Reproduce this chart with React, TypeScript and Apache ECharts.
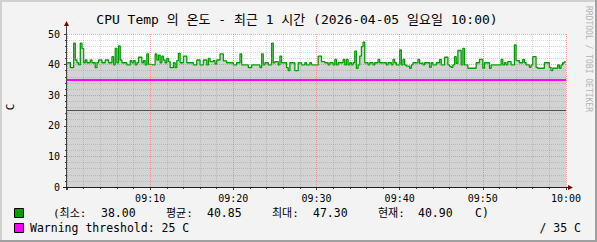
import React, { useEffect, useRef } from "react";
import * as echarts from "echarts";

const titleText = "CPU Temp 의 온도 - 최근 1 시간 (2026-04-05 일요일 10:00)";
const startHour = 9;
const stepSeconds = 12;
const totalSeconds = 3600;
const yTicks = [0, 10, 20, 30, 40, 50];
const warnLow = 25;
const warnHigh = 35;

// CPU temperature samples, one per 12 seconds from 09:00
const temps = [
  40.6, 40.6, 39.0, 39.0, 47.0, 41.5, 40.6, 39.9, 47.0, 45.3, 40.6, 41.5, 40.6, 40.6, 41.5, 40.6, 40.6, 39.0, 40.6, 41.5,
  41.5, 40.6, 40.6, 41.5, 41.5, 40.6, 40.6, 42.6, 39.9, 45.3, 40.6, 46.1, 41.5, 40.6, 40.6, 40.6, 39.9, 39.9, 41.3, 40.6,
  41.3, 39.9, 40.6, 42.4, 42.4, 40.6, 41.3, 39.9, 43.5, 40.1, 40.1, 39.9, 39.9, 43.5, 41.5, 43.1, 40.6, 42.8, 41.5, 40.6,
  42.0, 41.0, 39.0, 39.0, 40.6, 39.0, 41.3, 43.7, 40.6, 40.6, 42.8, 42.8, 40.6, 40.6, 40.6, 40.6, 39.9, 39.9, 41.5, 41.5,
  39.9, 39.9, 41.5, 41.5, 39.9, 42.0, 41.0, 41.0, 41.3, 40.2, 41.5, 41.5, 43.5, 43.5, 41.2, 41.2, 40.6, 40.6, 40.6, 40.6,
  39.9, 39.9, 40.6, 40.6, 43.5, 39.9, 39.9, 39.9, 39.9, 39.0, 39.0, 39.9, 39.9, 39.9, 39.9, 39.9, 39.0, 43.5, 39.9, 40.6,
  40.6, 39.9, 39.9, 47.0, 40.6, 41.0, 41.0, 39.9, 42.8, 40.6, 40.6, 40.6, 39.0, 38.0, 40.6, 40.6, 40.6, 38.0, 38.0, 40.6,
  40.6, 39.9, 39.9, 40.6, 39.9, 39.9, 40.6, 39.9, 39.9, 39.9, 39.9, 42.8, 42.8, 41.0, 41.0, 40.6, 40.6, 39.9, 40.6, 40.6,
  39.9, 41.7, 39.9, 40.6, 40.6, 40.6, 41.7, 39.9, 41.7, 39.9, 40.6, 39.9, 40.6, 44.4, 38.8, 39.9, 42.8, 45.9, 47.3, 40.6,
  40.6, 39.9, 40.6, 40.6, 39.9, 40.6, 40.6, 41.7, 40.6, 40.6, 40.6, 40.6, 39.9, 40.6, 40.6, 39.9, 41.7, 40.6, 39.9, 39.9,
  44.8, 39.9, 41.7, 39.9, 39.5, 39.5, 38.8, 39.9, 40.6, 40.6, 40.6, 41.7, 40.4, 40.6, 39.9, 40.6, 40.6, 40.6, 39.1, 40.6,
  39.9, 39.9, 40.6, 40.6, 41.7, 39.9, 39.9, 42.4, 42.4, 39.9, 39.4, 39.1, 39.9, 42.6, 40.4, 44.6, 44.6, 39.9, 45.3, 39.9,
  39.9, 38.8, 38.8, 38.8, 38.8, 38.8, 40.6, 40.6, 41.7, 41.7, 38.8, 40.6, 40.6, 40.6, 38.8, 39.9, 39.9, 39.9, 39.9, 39.9,
  39.9, 41.7, 39.9, 40.6, 39.9, 41.0, 41.0, 39.9, 39.9, 46.4, 41.3, 41.3, 40.6, 40.6, 41.7, 40.6, 39.9, 39.9, 39.1, 39.9,
  42.6, 42.6, 39.1, 38.8, 38.8, 38.8, 38.8, 40.6, 40.6, 40.6, 39.1, 38.0, 38.8, 38.8, 38.8, 39.9, 38.8, 39.9, 40.6, 40.9,
];

const statLabels = ["(최소:", "평균:", "최대:", "현재:"];
const statValues = ["38.00", "40.85", "47.30", "40.90"];
const statUnit = "C)";
const warnLegend = "Warning threshold: 25 C";
const warnLegendRight = "/ 35 C";
const watermark = "RRDTOOL / TOBI OETIKER";

const MONO = "'DejaVu Sans Mono', 'Noto Sans CJK KR', monospace";

export default function App() {
  const ref = useRef<HTMLDivElement>(null);

  useEffect(() => {
    if (!ref.current) return;
    const chart = echarts.init(ref.current, undefined, { renderer: "svg" });

    const points: [number, number][] = temps.map((v, i) => [i * stepSeconds, v]);
    points.push([totalSeconds, temps[temps.length - 1]]);

    const gl = 67, gt = 34, gw = 499, gh = 153;
    const labelX = [53, 166, 272, 378];
    const valueX = [101, 207, 313, 418];

    const legendTexts: any[] = [];
    statLabels.forEach((t, i) => {
      legendTexts.push({
        type: "text",
        style: { text: t, x: labelX[i], y: 213, verticalAlign: "middle", fontSize: 11, fontFamily: MONO, fill: "#000" },
      });
      legendTexts.push({
        type: "text",
        style: { text: statValues[i], x: valueX[i], y: 213, verticalAlign: "middle", fontSize: 11.5, fontFamily: MONO, fill: "#000" },
      });
    });
    legendTexts.push({
      type: "text",
      style: { text: statUnit, x: 475, y: 213, verticalAlign: "middle", fontSize: 11.5, fontFamily: MONO, fill: "#000" },
    });

    const fmt = (v: number) => {
      if (v === 0) return "";
      const m = startHour * 60 + Math.round(v / 60);
      const hh = String(Math.floor(m / 60)).padStart(2, "0");
      const mm = String(m % 60).padStart(2, "0");
      return `${hh}:${mm}`;
    };

    chart.setOption({
      animation: false,
      backgroundColor: "#f3f3f3",
      grid: { left: gl, top: gt, width: gw, height: gh, show: true, backgroundColor: "#ffffff", borderWidth: 0 },
      xAxis: {
        type: "value",
        min: 0,
        max: totalSeconds,
        interval: 600,
        z: 3,
        axisLine: { show: false },
        axisTick: { show: true, length: 3, lineStyle: { color: "#404040" } },
        minorTick: { show: true, splitNumber: 5, length: 2, lineStyle: { color: "#404040" } },
        axisLabel: { formatter: fmt, fontSize: 10, fontFamily: MONO, color: "#000", margin: 6, showMinLabel: false },
        splitLine: { show: true, lineStyle: { color: "rgba(255,90,90,0.55)", type: [1, 1], width: 1 } },
        minorSplitLine: { show: true, lineStyle: { color: "rgba(130,130,130,0.32)", type: [1, 1], width: 1 } },
      },
      yAxis: {
        type: "value",
        min: yTicks[0],
        max: yTicks[yTicks.length - 1],
        interval: yTicks[1] - yTicks[0],
        z: 3,
        axisLine: { show: false },
        axisTick: { show: true, length: 3, lineStyle: { color: "#404040" } },
        minorTick: { show: true, splitNumber: 5, length: 2, lineStyle: { color: "#404040" } },
        axisLabel: { fontSize: 10, fontFamily: MONO, color: "#000", margin: 7 },
        splitLine: { show: true, lineStyle: { color: "rgba(255,90,90,0.55)", type: [1, 1], width: 1 } },
        minorSplitLine: { show: true, lineStyle: { color: "rgba(130,130,130,0.32)", type: [1, 1], width: 1 } },
      },
      series: [
        {
          type: "line",
          data: points,
          step: "end",
          showSymbol: false,
          lineStyle: { color: "#009f00", width: 1.3 },
          areaStyle: { color: "#d3d3d3", opacity: 1 },
          z: 2,
          markLine: {
            silent: true,
            symbol: "none",
            label: { show: false },
            data: [
              { yAxis: warnHigh, lineStyle: { color: "#ff00ff", width: 2, type: "solid" } },
              { yAxis: warnLow, lineStyle: { color: "#505050", width: 1, type: "solid" } },
            ],
          },
        },
      ],
      graphic: [
        // frame
        { type: "rect", shape: { x: 0, y: 0, width: 597, height: 2 }, style: { fill: "#d0d0d0" }, z: 10 },
        { type: "rect", shape: { x: 0, y: 0, width: 2, height: 242 }, style: { fill: "#d0d0d0" }, z: 10 },
        { type: "rect", shape: { x: 0, y: 240, width: 597, height: 2 }, style: { fill: "#a0a0a0" }, z: 10 },
        { type: "rect", shape: { x: 595, y: 0, width: 2, height: 242 }, style: { fill: "#a0a0a0" }, z: 10 },
        // axes
        { type: "line", shape: { x1: gl - 0.5, y1: gt + gh + 3, x2: gl - 0.5, y2: gt - 10 }, style: { stroke: "#404040", lineWidth: 1 }, z: 10 },
        { type: "line", shape: { x1: gl - 4, y1: gt + gh + 0.5, x2: gl + gw + 4, y2: gt + gh + 0.5 }, style: { stroke: "#202020", lineWidth: 1 }, z: 10 },
        { type: "polygon", shape: { points: [[gl - 3, gt - 8], [gl + 2, gt - 8], [gl - 0.5, gt - 13]] }, style: { fill: "#7f0000" }, z: 11 },
        { type: "polygon", shape: { points: [[gl + gw + 2, gt + gh - 2], [gl + gw + 2, gt + gh + 3], [gl + gw + 7, gt + gh + 0.5]] }, style: { fill: "#7f0000" }, z: 11 },
        // title
        {
          type: "text",
          style: { text: titleText, x: 297, y: 19, align: "center", verticalAlign: "middle", fontSize: 13, fontFamily: MONO, fill: "#000" },
        },
        // y axis name
        {
          type: "text",
          x: 10,
          y: 107,
          rotation: Math.PI / 2,
          style: { text: "C", x: 0, y: 0, align: "center", verticalAlign: "middle", fontSize: 11, fontFamily: MONO, fill: "#000" },
        },
        // watermark
        {
          type: "text",
          x: 588,
          y: 59,
          rotation: -Math.PI / 2,
          style: { text: watermark, x: 0, y: 0, align: "center", verticalAlign: "middle", fontSize: 8, fontFamily: MONO, fill: "#b4b4b4" },
        },
        // legend boxes
        { type: "rect", shape: { x: 14.5, y: 208.5, width: 9, height: 9 }, style: { fill: "#00a000", stroke: "#000", lineWidth: 1 } },
        { type: "rect", shape: { x: 14.5, y: 223.5, width: 9, height: 9 }, style: { fill: "#ff00ff", stroke: "#000", lineWidth: 1 } },
        ...legendTexts,
        {
          type: "text",
          style: { text: warnLegend, x: 30, y: 228, verticalAlign: "middle", fontSize: 11.5, fontFamily: MONO, fill: "#000" },
        },
        {
          type: "text",
          style: { text: warnLegendRight, x: 581, y: 228, align: "right", verticalAlign: "middle", fontSize: 11.5, fontFamily: MONO, fill: "#000" },
        },
      ],
    });

    return () => chart.dispose();
  }, []);

  return <div ref={ref} style={{ position: "fixed", left: 0, top: 0, width: 597, height: 242 }} />;
}
